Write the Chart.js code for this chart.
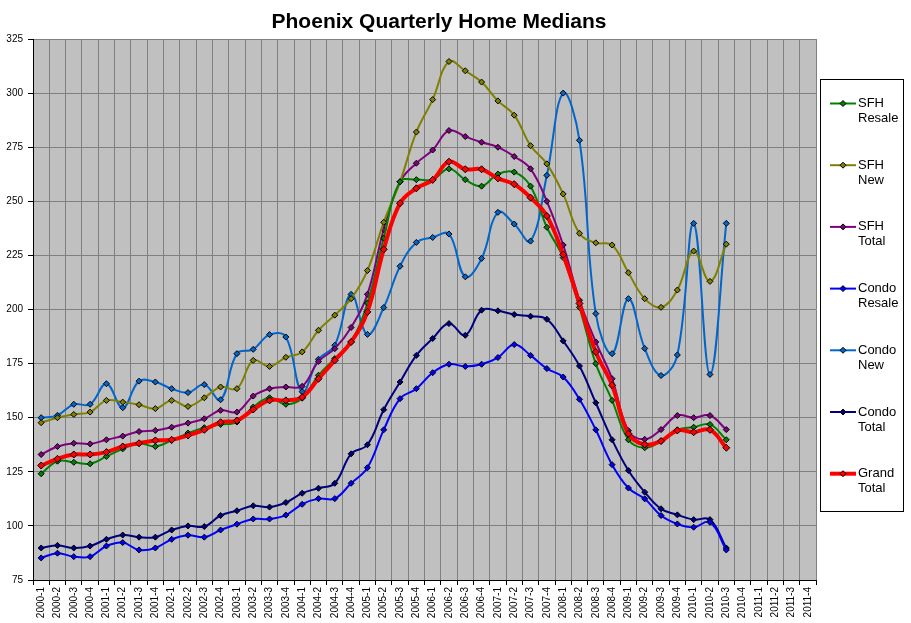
<!DOCTYPE html>
<html>
<head>
<meta charset="utf-8">
<title>Phoenix Quarterly Home Medians</title>
<script src="https://cdn.jsdelivr.net/npm/chart.js@4/dist/chart.umd.min.js"></script>
<style>
  html, body { margin: 0; padding: 0; background: #fff; }
  #wrap { width: 911px; height: 623px; }
</style>
</head>
<body>
<div id="wrap"><canvas id="medians" width="911" height="623"></canvas></div>
<script>
// quarters on the x axis
var quarters = ['2000-1','2000-2','2000-3','2000-4','2001-1','2001-2','2001-3','2001-4',
  '2002-1','2002-2','2002-3','2002-4','2003-1','2003-2','2003-3','2003-4',
  '2004-1','2004-2','2004-3','2004-4','2005-1','2005-2','2005-3','2005-4',
  '2006-1','2006-2','2006-3','2006-4','2007-1','2007-2','2007-3','2007-4',
  '2008-1','2008-2','2008-3','2008-4','2009-1','2009-2','2009-3','2009-4',
  '2010-1','2010-2','2010-3','2010-4','2011-1','2011-2','2011-3','2011-4'];

// medians in $1000 (data stops at 2010-3)
var sfhResale = [124.1,129.9,129.4,128.7,132.1,135.6,138.2,136.7,139.5,142.9,145.4,146.9,148,154.9,159.2,156.2,
  159,169.6,177.3,185,203,233,259,260,260,265,260,257,262.6,263.5,257,238,
  224,201,175,158,139.8,136.1,139.2,144.4,145.6,146.9,139.8];
var sfhNew = [147.7,150,151.5,152.6,158,157.2,156,154.2,158,155.2,159.2,164.2,163.4,176.5,173.7,177.9,
  180.4,190.4,197.4,205,218,240.3,259,282,297,314.6,310.3,305.1,296.4,289.8,275.7,267.3,
  253.4,235.2,230.8,229.8,217,205,201,209,227,213,230.2];
var sfhTotal = [133,136.7,138.2,137.9,139.8,141.5,143.6,144.1,145.6,147.5,149.5,153.4,152.6,160,163.4,164.2,
  164.5,176,181.9,191.7,207,237,259,267.6,273.7,282.7,279.9,277.3,275,270.7,265,250,
  229.8,204.3,185,168,144,140,144.5,151,150,151,144.5];
var condoResale = [85.2,87.4,85.8,85.8,90.7,92.3,88.9,89.8,93.8,95.7,94.8,98.1,100.8,103.2,103.2,105,
  110,112.6,112.6,119.7,126.9,144.4,158.8,163.4,170.8,174.7,173.7,174.7,177.8,183.8,178.8,172.7,
  168.8,158.5,144.4,128.3,117.5,112.5,104.8,100.9,99.4,101.7,88.9];
var condoNew = [150,151.1,156.2,156.2,165.7,154.6,166.9,166.5,163.4,161.6,165.3,158.3,179.6,181.6,188.4,187.3,
  162,177,183.5,207,188.5,200.9,220,231,233.3,234.9,215.1,223.6,244.9,239.5,231.6,262,
  300,278.2,198.1,179.6,205,182,169.5,179,239.8,170,239.8];
var condoTotal = [89.8,91,89.8,90.7,93.8,95.8,94.8,94.8,98.1,100,99.7,104.8,107,109.3,108.7,110.8,
  115.1,117.4,119.7,133.3,137.5,153.7,166.5,178.8,186.6,193.5,188.1,199.7,199.4,197.7,196.9,195.5,
  185.5,173.9,156.9,139.8,125.6,115.6,107.9,105.1,102.9,102.9,89.8];
var grandTotal = [127.9,131,133,133,134.1,136.7,138.2,139.5,139.8,141.8,144.4,147.9,148.7,153.8,158,158,
  159.5,168,176.5,185,198.9,227.8,249.1,256,259.9,268.3,264.8,264.8,260.6,257.9,251.7,243.2,
  225.4,202.8,180.4,165,142.6,137.6,139.2,144.1,143.3,144.4,136.1];

var seriesNames = [['SFH','Resale'],['SFH','New'],['SFH','Total'],['Condo','Resale'],['Condo','New'],['Condo','Total'],['Grand','Total']];
var seriesData = [sfhResale, sfhNew, sfhTotal, condoResale, condoNew, condoTotal, grandTotal];
var seriesColors = ['#008000','#808000','#800080','#0000FF','#0066CC','#000080','#FF0000'];
var yTicks = [75,100,125,150,175,200,225,250,275,300,325];

var datasets = seriesData.map(function (d, i) {
    var grand = (i === 6);
    return {
        label: seriesNames[i].join(' '),
        data: d,
        borderColor: seriesColors[i],
        backgroundColor: seriesColors[i],
        borderWidth: grand ? 4 : 2,
        tension: 0.4,
        pointStyle: 'rectRot',
        pointRadius: grand ? 3.5 : 3,
        pointBorderColor: '#000',
        pointBorderWidth: 1,
        pointBackgroundColor: seriesColors[i],
        order: grand ? 0 : 1
    };
});

// grey plot area
var plotBg = {
    id: 'plotBg',
    beforeDraw: function (chart) {
        var a = chart.chartArea, c = chart.ctx;
        c.save();
        c.fillStyle = '#C0C0C0';
        c.fillRect(a.left, a.top, a.right - a.left, a.bottom - a.top);
        c.restore();
    }
};

// title + the boxed legend on the right
var decor = {
    id: 'decor',
    afterDraw: function (chart) {
        var c = chart.ctx;
        c.save();
        c.fillStyle = '#000';
        c.font = 'bold 21px Arial, "Liberation Sans", sans-serif';
        c.textAlign = 'center';
        c.textBaseline = 'middle';
        c.fillText('Phoenix Quarterly Home Medians', 439, 22);

        c.strokeStyle = '#000';
        c.lineWidth = 1;
        c.strokeRect(820.5, 79.5, 83, 432);

        c.font = '13px Arial, "Liberation Sans", sans-serif';
        c.textAlign = 'left';
        for (var i = 0; i < seriesNames.length; i++) {
            var y = 103.5 + i * 61.7;
            c.strokeStyle = seriesColors[i];
            c.lineWidth = (i === 6) ? 4 : 2;
            c.beginPath();
            c.moveTo(830, y);
            c.lineTo(856, y);
            c.stroke();
            // diamond marker
            c.fillStyle = seriesColors[i];
            c.strokeStyle = '#000';
            c.lineWidth = 1;
            c.beginPath();
            c.moveTo(843, y - 3);
            c.lineTo(846, y);
            c.lineTo(843, y + 3);
            c.lineTo(840, y);
            c.closePath();
            c.fill();
            c.stroke();
            c.fillStyle = '#000';
            c.fillText(seriesNames[i][0], 858, y);
            c.fillText(seriesNames[i][1], 858, y + 15);
        }
        c.restore();
    }
};

var ctx = document.getElementById('medians').getContext('2d');
var chart = new Chart(ctx, {
    type: 'line',
    data: { labels: quarters, datasets: datasets },
    options: {
        responsive: false,
        animation: false,
        devicePixelRatio: 1,
        layout: { padding: { top: 39, right: 95, left: 0, bottom: 0 } },
        plugins: {
            legend: { display: false },
            title: { display: false },
            tooltip: { enabled: false }
        },
        scales: {
            x: {
                type: 'category',
                offset: true,
                grid: { offset: true, color: '#808080', lineWidth: 1, tickColor: '#000', tickLength: 5 },
                border: { color: '#000', width: 1 },
                ticks: {
                    autoSkip: false, maxRotation: 90, minRotation: 90,
                    color: '#000', padding: 2,
                    font: { family: 'Arial, "Liberation Sans", sans-serif', size: 10 }
                },
                afterFit: function (s) { s.height = 43; }
            },
            y: {
                min: 75, max: 325,
                afterBuildTicks: function (s) { s.ticks = yTicks.map(function (v) { return { value: v }; }); },
                grid: { color: '#808080', lineWidth: 1, tickColor: '#000', tickLength: 5 },
                border: { color: '#000', width: 1 },
                ticks: {
                    color: '#000', padding: 5,
                    font: { family: 'Arial, "Liberation Sans", sans-serif', size: 10 }
                },
                afterFit: function (s) { s.width = 33; }
            }
        }
    },
    plugins: [plotBg, decor]
});
</script>
</body>
</html>
